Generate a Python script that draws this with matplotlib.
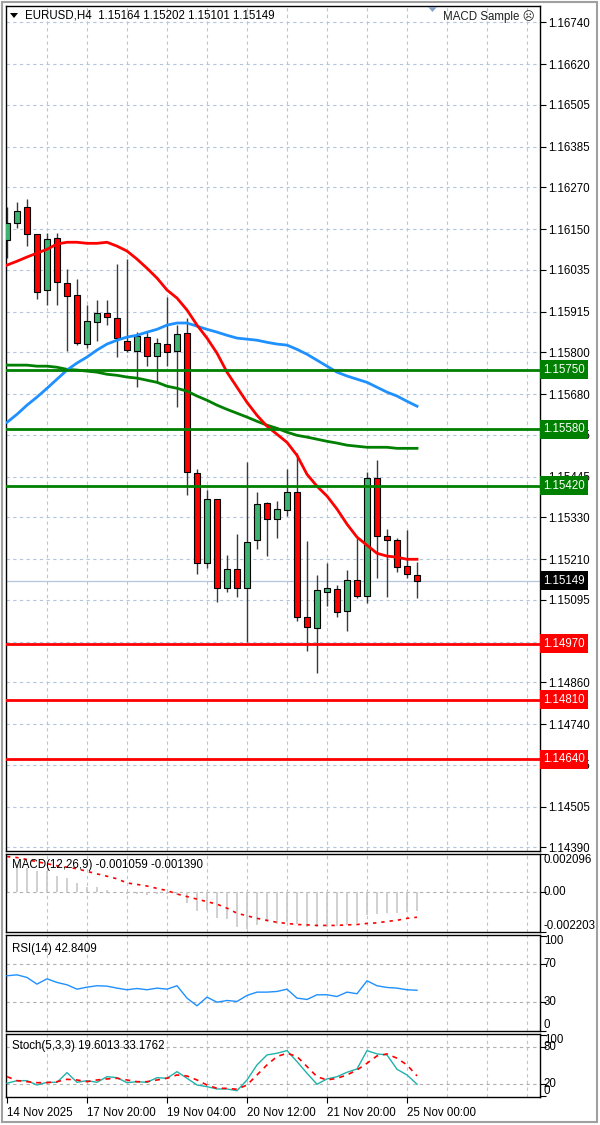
import matplotlib
matplotlib.use('Agg')
import matplotlib.pyplot as plt
import matplotlib.transforms as mtransforms
from matplotlib.patches import Rectangle, Polygon
import numpy as np

plt.rcParams['font.family'] = ['Liberation Sans', 'DejaVu Sans']

# EURUSD H4 bars
opens = [1.16119, 1.16167, 1.16213, 1.16136, 1.15977, 1.16125, 1.15996, 1.15962, 1.15823, 1.15885,
         1.15911, 1.15897, 1.15831, 1.15803, 1.15843, 1.15788, 1.15823, 1.15803, 1.15854, 1.15455,
         1.15199, 1.15381, 1.15128, 1.15182, 1.15128, 1.15264, 1.15370, 1.15324, 1.15350, 1.15401,
         1.15045, 1.15014, 1.15116, 1.15125, 1.15062, 1.15150, 1.15105, 1.15441, 1.15276, 1.15264,
         1.15190, 1.15164]
highs = [1.16213, 1.16227, 1.16236, 1.16136, 1.16139, 1.16139, 1.16036, 1.16008, 1.15934, 1.15948,
         1.15948, 1.16051, 1.16065, 1.15857, 1.15857, 1.15840, 1.15957, 1.15877, 1.15897, 1.15467,
         1.15407, 1.15381, 1.15222, 1.15281, 1.15486, 1.15401, 1.15373, 1.15375, 1.15467, 1.15512,
         1.15261, 1.15165, 1.15199, 1.15136, 1.15179, 1.15270, 1.15458, 1.15492, 1.15296, 1.15270,
         1.15293, 1.15202]
lows = [1.16068, 1.16153, 1.16102, 1.15951, 1.15934, 1.15934, 1.15803, 1.15820, 1.15811, 1.15831,
        1.15877, 1.15786, 1.15800, 1.15700, 1.15760, 1.15712, 1.15760, 1.15643, 1.15392, 1.15167,
        1.15184, 1.15088, 1.15116, 1.15102, 1.14974, 1.15239, 1.15219, 1.15270, 1.15333, 1.15033,
        1.14948, 1.14885, 1.15076, 1.15045, 1.15005, 1.15099, 1.15085, 1.15156, 1.15102, 1.15173,
        1.15156, 1.15101]
closes = [1.16167, 1.16202, 1.16136, 1.15971, 1.16122, 1.15999, 1.15959, 1.15826, 1.15888, 1.15911,
          1.15900, 1.15840, 1.15806, 1.15845, 1.15788, 1.15826, 1.15800, 1.15851, 1.15458, 1.15199,
          1.15381, 1.15128, 1.15182, 1.15128, 1.15259, 1.15367, 1.15324, 1.15353, 1.15401, 1.15045,
          1.15016, 1.15122, 1.15128, 1.15059, 1.15150, 1.15105, 1.15441, 1.15276, 1.15264, 1.15187,
          1.15167, 1.15149]

ma_red = [1.16048, 1.16059, 1.16071, 1.16082, 1.16093, 1.16108, 1.16113, 1.16113, 1.16110, 1.16110,
          1.16113, 1.16102, 1.16088, 1.16065, 1.16039, 1.16011, 1.15977, 1.15954, 1.15920, 1.15877,
          1.15840, 1.15797, 1.15743, 1.15700, 1.15657, 1.15620, 1.15589, 1.15566, 1.15543, 1.15506,
          1.15452, 1.15418, 1.15390, 1.15353, 1.15310, 1.15273, 1.15250, 1.15227, 1.15219, 1.15216,
          1.15210, 1.15210]
ma_blue = [1.15600, 1.15623, 1.15649, 1.15672, 1.15697, 1.15723, 1.15749, 1.15769, 1.15786, 1.15806,
           1.15823, 1.15834, 1.15843, 1.15848, 1.15857, 1.15865, 1.15877, 1.15883, 1.15883, 1.15874,
           1.15865, 1.15857, 1.15848, 1.15840, 1.15837, 1.15834, 1.15828, 1.15823, 1.15820, 1.15808,
           1.15794, 1.15777, 1.15760, 1.15743, 1.15732, 1.15723, 1.15714, 1.15700, 1.15686, 1.15675,
           1.15660, 1.15646]
ma_green = [1.15763, 1.15763, 1.15763, 1.15760, 1.15760, 1.15757, 1.15751, 1.15749, 1.15746, 1.15743,
            1.15737, 1.15734, 1.15729, 1.15726, 1.15720, 1.15714, 1.15703, 1.15697, 1.15689, 1.15675,
            1.15663, 1.15649, 1.15637, 1.15626, 1.15615, 1.15603, 1.15592, 1.15583, 1.15572, 1.15563,
            1.15558, 1.15552, 1.15546, 1.15541, 1.15535, 1.15532, 1.15529, 1.15529, 1.15529, 1.15526,
            1.15526, 1.15526]

macd_main = [0.00184, 0.00155, 0.00130, 0.00117, 0.00115, 0.00090, 0.00078, 0.00050, 0.00025, 0.00028,
             0.00010, 0.00000, -0.00010, -0.00012, -0.00015, -0.00010, -0.00012, -0.00015, -0.00060, -0.00105,
             -0.00100, -0.00145, -0.00150, -0.00190, -0.00205, -0.00180, -0.00165, -0.00175, -0.00165, -0.00175,
             -0.00190, -0.00195, -0.00190, -0.00185, -0.00180, -0.00170, -0.00125, -0.00120, -0.00115, -0.00115,
             -0.00112, -0.001059]
macd_signal = [0.00195, 0.00190, 0.00179, 0.00167, 0.00156, 0.00145, 0.00137, 0.00128, 0.00114, 0.00100,
               0.00087, 0.00073, 0.00050, 0.00042, 0.00033, 0.00020, 0.00008, -0.00011, -0.00025, -0.00039,
               -0.00053, -0.00067, -0.00089, -0.00117, -0.00131, -0.00145, -0.00156, -0.00167, -0.00173, -0.00179,
               -0.00181, -0.00184, -0.00184, -0.00184, -0.00181, -0.00179, -0.00173, -0.00170, -0.00162, -0.00156,
               -0.00145, -0.00139]

rsi = [58.1, 59.1, 56.3, 49.3, 54.9, 51.1, 48.6, 44.0, 46.1, 47.6,
       47.2, 45.1, 43.4, 44.7, 43.4, 45.1, 44.0, 47.6, 34.6, 26.5,
       35.6, 30.3, 32.1, 31.1, 37.4, 40.9, 40.9, 41.6, 44.0, 34.6,
       33.2, 38.1, 38.1, 36.3, 40.9, 39.2, 52.8, 47.6, 45.8, 45.1,
       43.4, 42.84]

stoch_main = [21.1, 25.4, 25.4, 18.3, 22.7, 22.7, 38.5, 22.7, 25.4, 22.7,
              31.9, 30.3, 22.1, 23.7, 22.7, 30.3, 29.3, 40.1, 29.3, 18.3,
              15.6, 11.8, 11.8, 9.0, 26.5, 51.1, 67.4, 70.2, 74.5, 56.5,
              37.5, 19.5, 28.2, 31.9, 39.1, 44.5, 74.5, 69.1, 67.4, 44.0,
              34.7, 19.6]
stoch_signal = [31.9, 25.4, 23.7, 22.1, 22.1, 23.7, 27.6, 26.5, 23.7, 26.5,
                28.2, 29.3, 26.5, 23.7, 23.7, 26.5, 29.3, 34.7, 33.0, 26.5,
                18.3, 12.9, 12.9, 11.3, 18.3, 34.7, 51.1, 64.8, 70.2, 64.8,
                48.4, 31.9, 26.5, 29.3, 34.7, 42.9, 53.8, 65.8, 69.1, 62.0,
                51.1, 33.2]

green_levels = [1.15750, 1.15580, 1.15420]
red_levels = [1.14970, 1.14810, 1.14640]
last_price = 1.15149

price_ticks = [1.16740, 1.16620, 1.16505, 1.16385, 1.16270, 1.16150, 1.16035, 1.15915, 1.15800,
               1.15680, 1.15565, 1.15445, 1.15330, 1.15210, 1.15095, 1.14975, 1.14860, 1.14740,
               1.14625, 1.14505, 1.14390]
hidden_ticks = [1.14975]  # fully covered by the 1.14970 label in the screenshot
time_labels = ['14 Nov 2025', '17 Nov 20:00', '19 Nov 04:00', '20 Nov 12:00', '21 Nov 20:00', '25 Nov 00:00']
time_label_bars = [0, 8, 16, 24, 32, 40]

W, H = 600, 1125
GRID = '#b4c6de'
BULL = '#3cb371'
FS = 8.3


def box(x0, y0, x1, y1):
    return [x0 / W, 1 - y1 / H, (x1 - x0) / W, (y1 - y0) / H]


def style_pane(a):
    for s in a.spines.values():
        s.set_color('black')
        s.set_linewidth(1)
    a.set_xlim(-0.1, 53.3)
    a.set_xticks([])
    a.yaxis.tick_right()
    a.tick_params(axis='y', direction='out', length=4, labelsize=FS, pad=2)
    for b in range(4, 53, 4):
        a.axvline(b, color=GRID, lw=0.8, ls=(0, (3, 3)), zorder=0)


def level_label(a, y, text, fc):
    t = mtransforms.blended_transform_factory(a.transAxes, a.transData)
    a.text(1.006, y, text, transform=t, ha='left', va='center', color='white', fontsize=FS,
           bbox=dict(boxstyle='square,pad=0.28', fc=fc, ec='none'), clip_on=False, zorder=6)


fig = plt.figure(figsize=(6, 11.25), dpi=100)
fig.patches.append(Rectangle((2 / W, 3 / H), 595 / W, 1120 / H, transform=fig.transFigure,
                             fill=False, ec='#a0a0a0', lw=1.5))

# ---- main price pane
ax = fig.add_axes(box(6, 6, 540, 851))
style_pane(ax)
ax.set_ylim(1.14379, 1.16786)
ax.set_yticks(price_ticks)
ax.set_yticklabels(['' if t in hidden_ticks else '%.5f' % t for t in price_ticks])
for t in price_ticks:
    ax.axhline(t, color=GRID, lw=0.8, ls=(0, (3, 3)), zorder=0)

x = np.arange(len(opens))
o, h, l, c = (np.array(v) for v in (opens, highs, lows, closes))
up = c >= o
ax.axhline(last_price, color=GRID, lw=0.9, zorder=1)
ax.vlines(x, l, h, color='#3a3a3a', lw=1, zorder=2)
bottom = np.minimum(o, c)
height = np.maximum(np.abs(c - o), 0.00003)
ax.bar(x[up], height[up], bottom=bottom[up], width=0.55, color=BULL, edgecolor='black', lw=0.8, zorder=3)
ax.bar(x[~up], height[~up], bottom=bottom[~up], width=0.55, color='red', edgecolor='black', lw=0.8, zorder=3)

ax.plot(x, ma_green, color='#008000', lw=2, zorder=4)
ax.plot(x, ma_blue, color='#1e90ff', lw=2, zorder=4)
ax.plot(x, ma_red, color='red', lw=2, zorder=4)

for lvl in green_levels:
    ax.axhline(lvl, color='#008000', lw=2, zorder=5)
    level_label(ax, lvl, '%.5f' % lvl, '#008000')
for lvl in red_levels:
    ax.axhline(lvl, color='red', lw=2, zorder=5)
    level_label(ax, lvl, '%.5f' % lvl, 'red')
level_label(ax, last_price, '%.5f' % last_price, 'black')

fig.text(25 / W, 1 - 16 / H, 'EURUSD,H4  1.15164 1.15202 1.15101 1.15149', fontsize=FS, va='center')
fig.patches.append(Polygon([[10 / W, 1 - 13 / H], [18 / W, 1 - 13 / H], [14 / W, 1 - 18 / H]],
                           closed=True, transform=fig.transFigure, fc='black', ec='none'))
fig.patches.append(Polygon([[428 / W, 1 - 7 / H], [437 / W, 1 - 7 / H], [432.5 / W, 1 - 12 / H]],
                           closed=True, transform=fig.transFigure, fc='#8aa4c8', ec='none'))
fig.text(535 / W, 1 - 17 / H, 'MACD Sample \u2639', fontsize=FS, ha='right', va='center', color='#202020')

# ---- MACD pane
axm = fig.add_axes(box(6, 854, 540, 932))
style_pane(axm)
axm.set_ylim(-0.002203, 0.002096)
axm.axhline(0, color='#b0b0b0', lw=0.8, ls=(0, (3, 3)), zorder=0)
axm.vlines(x, 0, macd_main, color='#c8c8c8', lw=1.2, zorder=2)
axm.plot(x, macd_signal, color='red', lw=1.2, ls=(0, (2, 3)), zorder=3)
axm.set_yticks([0.002096, 0.0, -0.002203])
axm.set_yticklabels([])
trm = mtransforms.blended_transform_factory(axm.transAxes, axm.transData)
axm.text(1.007, 0.002096, '0.002096', transform=trm, ha='left', va='top', fontsize=FS, clip_on=False)
axm.text(1.007, 0.0, '0.00', transform=trm, ha='left', va='center', fontsize=FS, clip_on=False)
axm.text(1.007, -0.002203, '-0.002203', transform=trm, ha='left', va='bottom', fontsize=FS, clip_on=False)
axm.text(0.011, 0.93, 'MACD(12,26,9) -0.001059 -0.001390', transform=axm.transAxes, fontsize=FS,
         va='top', zorder=5)

# ---- RSI pane
axr = fig.add_axes(box(6, 935, 540, 1031))
style_pane(axr)
axr.set_ylim(0, 101)
for lv in (70, 30):
    axr.axhline(lv, color='#b0b0b0', lw=0.8, ls=(0, (3, 3)), zorder=0)
axr.plot(x, rsi, color='#1e90ff', lw=1, zorder=3)
axr.set_yticks([100, 70, 30, 0])
axr.set_yticklabels([])
trr = mtransforms.blended_transform_factory(axr.transAxes, axr.transData)
axr.text(1.007, 101, '100', transform=trr, ha='left', va='top', fontsize=FS, clip_on=False)
axr.text(1.007, 70, '70', transform=trr, ha='left', va='center', fontsize=FS, clip_on=False)
axr.text(1.007, 30, '30', transform=trr, ha='left', va='center', fontsize=FS, clip_on=False)
axr.text(1.007, 0, '0', transform=trr, ha='left', va='bottom', fontsize=FS, clip_on=False)
axr.text(0.011, 0.92, 'RSI(14) 42.8409', transform=axr.transAxes, fontsize=FS, va='top')

# ---- Stochastic pane
axs = fig.add_axes(box(6, 1034, 540, 1097))
style_pane(axs)
axs.set_ylim(-1.3, 101.6)
for lv in (80, 20):
    axs.axhline(lv, color='#b0b0b0', lw=0.8, ls=(0, (3, 3)), zorder=0)
axs.plot(x, stoch_main, color='#20b2aa', lw=1, zorder=3)
axs.plot(x, stoch_signal, color='red', lw=1.2, ls=(0, (3, 3)), zorder=3)
axs.set_yticks([100, 80, 20, 0])
axs.set_yticklabels([])
trs = mtransforms.blended_transform_factory(axs.transAxes, axs.transData)
axs.text(1.007, 101.6, '100', transform=trs, ha='left', va='top', fontsize=FS, clip_on=False)
axs.text(1.007, 80, '80', transform=trs, ha='left', va='center', fontsize=FS, clip_on=False)
axs.text(1.007, 20, '20', transform=trs, ha='left', va='center', fontsize=FS, clip_on=False)
axs.text(1.007, -1.3, '0', transform=trs, ha='left', va='bottom', fontsize=FS, clip_on=False)
axs.text(0.011, 0.9, 'Stoch(5,3,3) 19.6013 33.1762', transform=axs.transAxes, fontsize=FS, va='top')
axs.set_xticks(time_label_bars)
axs.set_xticklabels(time_labels, ha='left', fontsize=FS)
axs.tick_params(axis='x', direction='out', length=4, pad=3)

fig.savefig('out.png', dpi=100, facecolor='white')
